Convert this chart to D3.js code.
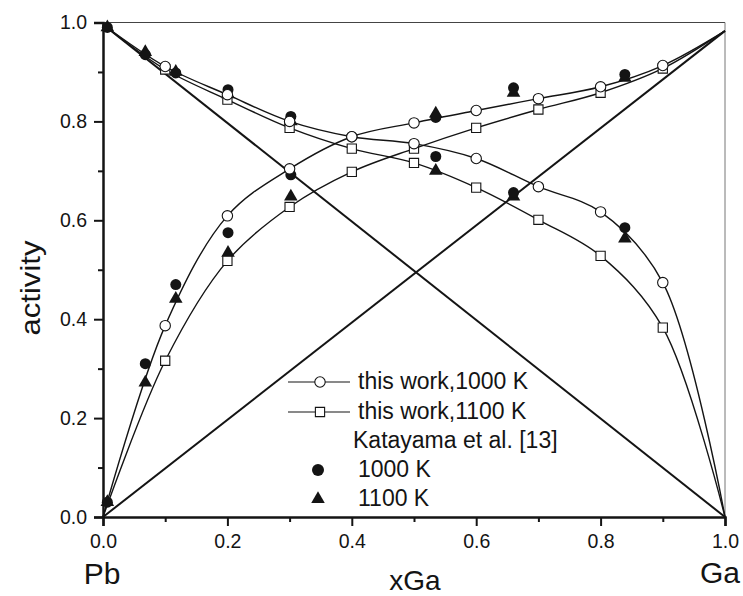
<!DOCTYPE html>
<html>
<head>
<meta charset="utf-8">
<script src="https://cdn.jsdelivr.net/npm/d3@7"></script>
<style>
  body { margin: 0; background: #fff; }
  svg { display: block; font-family: "Liberation Sans", Arial, sans-serif; }
</style>
</head>
<body>
<svg id="chart" width="743" height="596"></svg>
<script>
// model curves (xGa -> activity)
const xWork = [0, 0.1, 0.2, 0.3, 0.4, 0.5, 0.6, 0.7, 0.8, 0.9, 1.0];
const ga1000 = [0, 0.387, 0.609, 0.704, 0.769, 0.797, 0.822, 0.846, 0.870, 0.913, 0.983];
const ga1100 = [0, 0.316, 0.518, 0.627, 0.698, 0.745, 0.787, 0.824, 0.858, 0.907, 0.983];
const pb1000 = [0.996, 0.911, 0.854, 0.800, 0.769, 0.755, 0.725, 0.668, 0.617, 0.474, 0];
const pb1100 = [0.996, 0.905, 0.844, 0.787, 0.745, 0.716, 0.666, 0.601, 0.528, 0.383, 0];

// Katayama et al. [13]
const xKat = [0.007, 0.068, 0.117, 0.201, 0.302, 0.535, 0.660, 0.839];
const katGa1000 = [0.03, 0.310, 0.470, 0.575, 0.692, 0.808, 0.868, 0.895];
const katPb1000 = [0.99, 0.935, 0.898, 0.864, 0.810, 0.729, 0.656, 0.585];
const katGa1100 = [0.03, 0.272, 0.441, 0.534, 0.648, 0.816, 0.858, 0.888];
const katPb1100 = [0.99, 0.940, 0.900, 0.855, 0.800, 0.700, 0.648, 0.563];

// Raoult lines
const raoultGa = [[0, 0], [1, 0.983]];
const raoultPb = [[0, 0.996], [1, 0]];

const majorTicks = [0, 0.2, 0.4, 0.6, 0.8, 1.0];
const minorTicks = [0.1, 0.3, 0.5, 0.7, 0.9];

const legendRows = [
  {label: "this work,1000 K", type: "openCircle"},
  {label: "this work,1100 K", type: "openSquare"},
  {label: "Katayama et al. [13]", type: "title"},
  {label: "1000 K", type: "dot"},
  {label: "1100 K", type: "tri"}
];

const svg = d3.select("#chart");
const ink = "#141414";

const x = d3.scaleLinear().domain([0, 1]).range([103, 725]);
const y = d3.scaleLinear().domain([0, 1]).range([517, 22.5]);

const zip = (xs, ys) => xs.map((v, i) => [v, ys[i]]);

// frame (top/right are thin)
svg.append("line")
  .attr("x1", x(0)).attr("x2", x(1)).attr("y1", y(1)).attr("y2", y(1))
  .attr("stroke", "#444").attr("stroke-width", 1);
svg.append("line")
  .attr("x1", x(1)).attr("x2", x(1)).attr("y1", y(1)).attr("y2", y(0))
  .attr("stroke", "#777").attr("stroke-width", 1);

// axes
svg.append("g").attr("transform", `translate(0,${y(0)})`)
  .call(d3.axisBottom(x).tickValues(majorTicks).tickSize(9).tickPadding(8)
    .tickFormat(d3.format(".1f")));
svg.append("g").attr("transform", `translate(0,${y(0)})`)
  .call(d3.axisBottom(x).tickValues(minorTicks).tickSize(5).tickFormat(""))
  .call(g => g.select(".domain").remove());

svg.append("g").attr("transform", `translate(${x(0)},0)`)
  .call(d3.axisLeft(y).tickValues(majorTicks).tickSize(9).tickPadding(7)
    .tickFormat(d3.format(".1f")));
svg.append("g").attr("transform", `translate(${x(0)},0)`)
  .call(d3.axisLeft(y).tickValues(minorTicks).tickSize(5).tickFormat(""))
  .call(g => g.select(".domain").remove());

svg.selectAll(".domain").attr("stroke", ink).attr("stroke-width", 2.5);
svg.selectAll(".tick line").attr("stroke", ink).attr("stroke-width", 2);
svg.selectAll(".tick text")
  .attr("fill", ink)
  .style("font-size", "19.5px")
  .style("font-family", "'Liberation Sans', Arial, sans-serif");

// axis titles
svg.append("text")
  .attr("transform", "translate(40,288) rotate(-90)")
  .attr("text-anchor", "middle")
  .attr("textLength", 95).attr("lengthAdjust", "spacingAndGlyphs")
  .style("font-size", "28px").attr("fill", ink)
  .text("activity");
svg.append("text")
  .attr("x", 415).attr("y", 590).attr("text-anchor", "middle")
  .style("font-size", "28px").attr("fill", ink)
  .text("xGa");
svg.append("text")
  .attr("x", 102).attr("y", 584).attr("text-anchor", "middle")
  .style("font-size", "30px").attr("fill", ink)
  .text("Pb");
svg.append("text")
  .attr("x", 720).attr("y", 583).attr("text-anchor", "middle")
  .style("font-size", "30px").attr("fill", ink)
  .text("Ga");

// Raoult lines
const straight = d3.line().x(d => x(d[0])).y(d => y(d[1]));
[raoultGa, raoultPb].forEach(l => {
  svg.append("path").attr("d", straight(l))
    .attr("fill", "none").attr("stroke", ink).attr("stroke-width", 2);
});

// model curves
const smooth = d3.line().x(d => x(d[0])).y(d => y(d[1])).curve(d3.curveCatmullRom.alpha(0.5));
[ga1000, ga1100, pb1000, pb1100].forEach(s => {
  svg.append("path").attr("d", smooth(zip(xWork, s)))
    .attr("fill", "none").attr("stroke", ink).attr("stroke-width", 1.4);
});

const sqSym = d3.symbol().type(d3.symbolSquare).size(85);
const triSym = d3.symbol().type(d3.symbolTriangle).size(80);

// Katayama markers
[katGa1100, katPb1100].forEach(s => {
  svg.append("g").selectAll("path")
    .data(zip(xKat, s)).join("path")
    .attr("transform", d => `translate(${x(d[0])},${y(d[1])})`)
    .attr("d", triSym).attr("fill", ink);
});
[katGa1000, katPb1000].forEach(s => {
  svg.append("g").selectAll("circle")
    .data(zip(xKat, s)).join("circle")
    .attr("cx", d => x(d[0])).attr("cy", d => y(d[1])).attr("r", 5.5)
    .attr("fill", ink);
});

// this work markers (skip end points)
const inner = (xs, ys) => zip(xs, ys).filter(d => d[0] > 0 && d[0] < 1);
[ga1100, pb1100].forEach(s => {
  svg.append("g").selectAll("path")
    .data(inner(xWork, s)).join("path")
    .attr("transform", d => `translate(${x(d[0])},${y(d[1])})`)
    .attr("d", sqSym).attr("fill", "#fff").attr("stroke", ink).attr("stroke-width", 1.1);
});
[ga1000, pb1000].forEach(s => {
  svg.append("g").selectAll("circle")
    .data(inner(xWork, s)).join("circle")
    .attr("cx", d => x(d[0])).attr("cy", d => y(d[1])).attr("r", 5.2)
    .attr("fill", "#fff").attr("stroke", ink).attr("stroke-width", 1.1);
});

// legend
const leg = svg.append("g");
const rowY = [382, 412, 441, 470, 499];
legendRows.forEach((r, i) => {
  const cy = rowY[i];
  if (r.type === "openCircle" || r.type === "openSquare") {
    leg.append("line").attr("x1", 288).attr("x2", 350).attr("y1", cy).attr("y2", cy)
      .attr("stroke", ink).attr("stroke-width", 1.2);
  }
  if (r.type === "openCircle") {
    leg.append("circle").attr("cx", 320).attr("cy", cy).attr("r", 5.2)
      .attr("fill", "#fff").attr("stroke", ink).attr("stroke-width", 1.1);
  } else if (r.type === "openSquare") {
    leg.append("path").attr("transform", `translate(320,${cy})`).attr("d", sqSym)
      .attr("fill", "#fff").attr("stroke", ink).attr("stroke-width", 1.1);
  } else if (r.type === "dot") {
    leg.append("circle").attr("cx", 318).attr("cy", cy).attr("r", 6).attr("fill", ink);
  } else if (r.type === "tri") {
    leg.append("path").attr("transform", `translate(318,${cy})`).attr("d", triSym).attr("fill", ink);
  }
  leg.append("text")
    .attr("x", r.type === "title" ? 353 : 358)
    .attr("y", cy + 7)
    .style("font-size", "23px").attr("fill", ink)
    .text(r.label);
});
</script>
</body>
</html>
